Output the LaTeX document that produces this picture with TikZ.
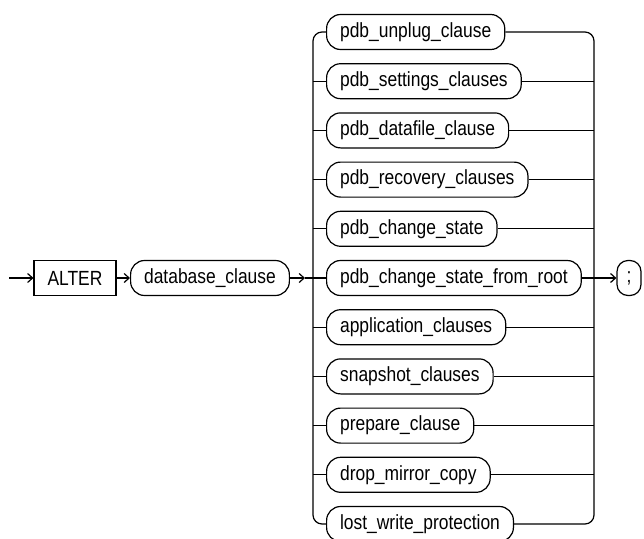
\documentclass[tikz,border=0pt]{standalone}
\usepackage{fontspec}
\setmainfont{Liberation Sans}[FakeStretch=0.85]
\usetikzlibrary{arrows.meta}
\tikzset{
  kw/.style={draw,line width=1.2pt,minimum height=35pt,inner xsep=13.5pt,inner ysep=0pt},
  ntm/.style={kw,rounded corners=14pt},
}
\begin{document}
\begin{tikzpicture}[x=1pt,y=-1pt,line width=1.2pt,>={Straight Barb[length=5pt,width=9pt]},
  font=\fontsize{20.5}{24}\selectfont]
\useasboundingbox (0,0) rectangle (644,538);
\coordinate (start) at (9,278);
\node[kw] (alter) at (75,278) {ALTER};
\node[ntm,anchor=west] (db) at (130,278) {database\_clause};
\coordinate (lrail) at (313,278);
\coordinate (rrail) at (594,278);
\coordinate (jin) at (305,278);
\node[ntm,anchor=west] (unplug) at (326,32) {pdb\_unplug\_clause};
\node[ntm,anchor=west] (settings) at (326,81.2) {pdb\_settings\_clauses};
\node[ntm,anchor=west] (datafile) at (326,130.4) {pdb\_datafile\_clause};
\node[ntm,anchor=west] (recovery) at (326,179.6) {pdb\_recovery\_clauses};
\node[ntm,anchor=west] (state) at (326,228.8) {pdb\_change\_state};
\node[ntm,anchor=west] (root) at (326,278) {pdb\_change\_state\_from\_root};
\node[ntm,anchor=west] (appl) at (326,327.2) {application\_clauses};
\node[ntm,anchor=west] (snap) at (326,376.4) {snapshot\_clauses};
\node[ntm,anchor=west] (prep) at (326,425.6) {prepare\_clause};
\node[ntm,anchor=west] (mirror) at (326,474.8) {drop\_mirror\_copy};
\node[ntm,anchor=west] (lost) at (326,524) {lost\_write\_protection};
\node[ntm,inner xsep=0pt,minimum width=24pt,rounded corners=11pt] (semi) at (629,278) {;};
% main line
\draw[->] (start) -- (alter);
\draw[->] (alter) -- (db);
\draw[->] (db) -- (jin);
\draw (jin) -- (lrail);
% rails
\draw[rounded corners=9pt] (unplug.west) -- (lrail |- unplug.west) -- (lrail |- lost.west) -- (lost.west);
\draw[rounded corners=9pt] (unplug.east) -- (rrail |- unplug.east) -- (rrail |- lost.east) -- (lost.east);
% branches
\draw (lrail |- settings.west) -- (settings.west);
\draw (lrail |- datafile.west) -- (datafile.west);
\draw (lrail |- recovery.west) -- (recovery.west);
\draw (lrail |- state.west) -- (state.west);
\draw (lrail) -- (root.west);
\draw (lrail |- appl.west) -- (appl.west);
\draw (lrail |- snap.west) -- (snap.west);
\draw (lrail |- prep.west) -- (prep.west);
\draw (lrail |- mirror.west) -- (mirror.west);
\draw (settings.east) -- (rrail |- settings.east);
\draw (datafile.east) -- (rrail |- datafile.east);
\draw (recovery.east) -- (rrail |- recovery.east);
\draw (state.east) -- (rrail |- state.east);
\draw (root.east) -- (rrail);
\draw (appl.east) -- (rrail |- appl.east);
\draw (snap.east) -- (rrail |- snap.east);
\draw (prep.east) -- (rrail |- prep.east);
\draw (mirror.east) -- (rrail |- mirror.east);
\draw[->] (rrail) -- (semi);
\end{tikzpicture}
\end{document}
